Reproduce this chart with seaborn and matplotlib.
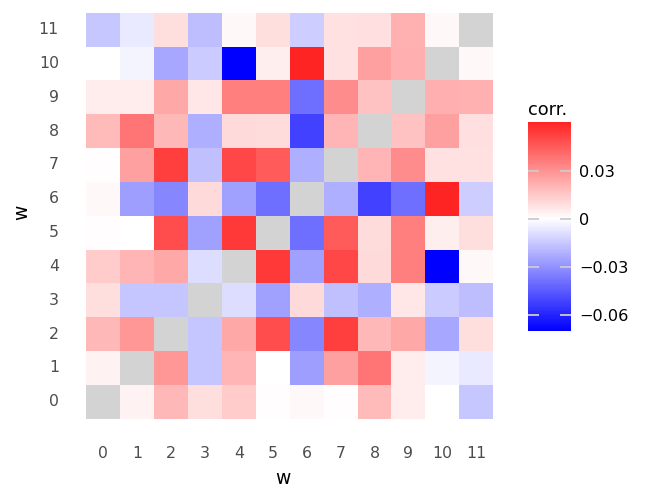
import numpy as np
import pandas as pd
import matplotlib
matplotlib.use('Agg')
import matplotlib.pyplot as plt
import seaborn as sns
from matplotlib.colors import LinearSegmentedColormap

# correlation between the 12 w's (diagonal left empty)
w_labels = list(range(12))
nan = np.nan
corr_rows = [
    [nan, .0036, .0192, .009, .014, .0005, .002, .0003, .0187, .0053, -.0003, -.0153],
    [.0036, nan, .0287, -.016, .0203, 0.0, -.0265, .0259, .0376, .0053, -.003, -.0064],
    [.0192, .0287, nan, -.016, .0237, .0487, -.0331, .0532, .0192, .0237, -.0242, .0092],
    [.009, -.016, -.016, nan, -.0092, -.026, .0103, -.0175, -.022, .0064, -.0142, -.018],
    [.014, .0203, .0237, -.0092, nan, .0543, -.026, .0504, .0103, .0354, -.0702, .002],
    [.0005, 0.0, .0487, -.026, .0543, nan, -.0398, .045, .0097, .0354, .0047, .0089],
    [.002, -.0265, -.0331, .0103, -.026, -.0398, nan, -.022, -.052, -.0398, .0604, -.0136],
    [.0003, .0259, .0532, -.0175, .0504, .045, -.022, nan, .0203, .0315, .0083, .0083],
    [.0187, .0376, .0192, -.022, .0103, .0097, -.052, .0203, nan, .017, .0262, .0086],
    [.0053, .0053, .0237, .0064, .0354, .0354, -.0398, .0315, .017, nan, .0218, .0215],
    [-.0003, -.003, -.0242, -.0142, -.0702, .0047, .0604, .0083, .0262, .0218, nan, .002],
    [-.0153, -.0064, .0092, -.018, .002, .0089, -.0136, .0083, .0086, .0215, .002, nan],
]
cbar_ticks = [-0.06, -0.03, 0, 0.03]
cbar_ticklabels = ['\u22120.06', '\u22120.03', '0', '0.03']

df = pd.DataFrame(corr_rows, index=w_labels, columns=w_labels)
df = df.iloc[::-1]  # 11 on top

# blue-white-red centred on 0, scaled by the larger absolute value
vmin = np.nanmin(df.values)
vmax = np.nanmax(df.values)
lim = max(abs(vmin), abs(vmax))
top = 1 - vmax / lim
mid = -vmin / (vmax - vmin)
cmap = LinearSegmentedColormap.from_list(
    'corr', [(0, (0, 0, 1)), (mid, (1, 1, 1)), (1, (1, top, top))])

fig = plt.figure(figsize=(6.6, 5.01), dpi=100)
ax = fig.add_axes([86 / 660, 1 - 418.7 / 501, 407.3 / 660, 406 / 501])
cax = fig.add_axes([528 / 660, 1 - 331 / 501, 42.7 / 660, 209 / 501])

sns.heatmap(df, ax=ax, cbar_ax=cax, cmap=cmap, vmin=vmin, vmax=vmax,
            cbar_kws={'ticks': cbar_ticks})
ax.set_facecolor('#d3d3d3')
for s in ax.spines.values():
    s.set_visible(False)

ax.tick_params(length=0, pad=19.5, labelsize=11.3, labelcolor='#4d4d4d')
ax.set_yticklabels([str(v) for v in df.index], rotation=0)
ax.set_xticklabels([str(v) for v in df.columns], rotation=0)
ax.set_xlabel('w', fontsize=13.5)
ax.set_ylabel('w', fontsize=13.5)
ax.xaxis.label.set_va('baseline')
ax.xaxis.set_label_coords((283 - 86) / 407.3, (418.7 - 484) / 406)
ax.yaxis.label.set_va('baseline')
ax.yaxis.set_label_coords((27.5 - 86) / 407.3, (418.7 - 212.5) / 406)

cbar = ax.collections[0].colorbar
cbar.outline.set_visible(False)
cbar.set_ticklabels(cbar_ticklabels)
cax.tick_params(direction='in', length=8, width=1.3, color='#cccccc',
                left=True, right=True, labelsize=11.6, labelcolor='black', pad=6)
cax.set_title('corr.', loc='left', fontsize=12.8, pad=5)

fig.savefig('out.png', dpi=100)
